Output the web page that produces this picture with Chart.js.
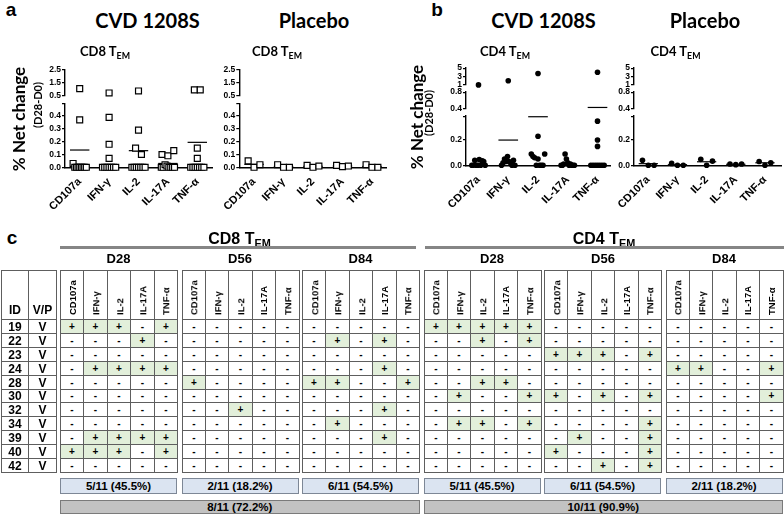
<!DOCTYPE html>
<html>
<head>
<meta charset="utf-8">
<script src="https://cdn.jsdelivr.net/npm/chart.js@4.4.1/dist/chart.umd.min.js"></script>
<style>
  html, body { margin: 0; padding: 0; background: #fff; }
  #fig { position: relative; width: 784px; height: 515px; overflow: hidden; font-family: "Liberation Sans", Arial, sans-serif; color: #000; }
  #fig canvas { position: absolute; }
  .txt { position: absolute; white-space: nowrap; line-height: 1; font-weight: bold; transform: translate(-50%, -50%); }
  .ttl { font-family: Lato, "Liberation Sans", sans-serif; }
  .rot { transform: translate(-50%, -50%) rotate(-90deg); }
  .sub { font-size: 0.68em; position: relative; top: 0.3em; }
  .cell { position: absolute; box-sizing: border-box; border: 1px solid #5e5e5e; display: flex; align-items: center; justify-content: center; font-weight: bold; font-size: 10px; line-height: 1; }
  .vlab { position: absolute; white-space: nowrap; line-height: 1; font-weight: bold; font-size: 9.5px; transform-origin: 0 0; transform: rotate(-90deg) translateY(-50%); }
  .bar { position: absolute; box-sizing: border-box; display: flex; align-items: center; justify-content: center; font-weight: bold; font-size: 11.5px; }
  .rule { position: absolute; background: #858585; }
</style>
</head>
<body>
<div id="fig"></div>
<script>
const markers = ["CD107a", "IFN-γ", "IL-2", "IL-17A", "TNF-α"];

// a: % net change (D28-D0), CD8 TEM, one row per marker
const cd8Vaccine = [
  [1.05, 0.37, 0.03, 0, 0, 0, 0, 0, 0, 0, 0],
  [0.72, 0.39, 0.18, 0.07, 0, 0, 0, 0, 0, 0, 0],
  [0.87, 0.29, 0.15, 0.1, 0, 0, 0, 0, 0, 0, 0],
  [0.1, 0.09, 0.13, 0, 0, 0.02, 0.01, 0, 0, 0, 0],
  [0.95, 0.95, 0.15, 0.07, 0, 0, 0, 0, 0, 0, 0],
];
const cd8VaccineMean = [0.135, null, 0.13, 0.03, 0.195];
const cd8Placebo = [
  [0.05, 0, 0.02],
  [0.02, 0, 0],
  [0.015, 0, 0.01],
  [0.015, 0.005, 0.01],
  [0.02, 0, 0],
];
const cd8PlaceboMean = [0.023, 0.007, 0.008, 0.01, 0.007];

// b: % net change (D28-D0), CD4 TEM
const cd4Vaccine = [
  [1.0, 0, 0, 0.04, 0, 0, 0.045, 0, 0.035, 0.03, 0],
  [2.0, 0, 0.02, 0.05, 0.03, 0.07, 0.03, 0.02, 0, 0.04, 0],
  [3.7, 0.23, 0.09, 0.07, 0.06, 0, 0.05, 0, 0, 0, 0.09],
  [0, 0, 0.01, 0.09, 0.05, 0.02, 0, 0.01, 0, 0, 0],
  [4.0, 0.35, 0.2, 0.15, 0, 0, 0, 0, 0, 0, 0],
];
const cd4VaccineMean = [null, 0.2, 0.385, null, 0.43];
const cd4Placebo = [
  [0.04, 0, 0],
  [0.015, 0, 0],
  [0.047, 0, 0.033],
  [0.01, 0.005, 0.01],
  [0.03, 0, 0.02],
];
const cd4PlaceboMean = [0.013, 0.005, 0.028, 0.008, 0.02];

// c: responders per subject, one string per row in marker order
const subjectIds = ["19", "22", "23", "24", "28", "30", "32", "34", "39", "40", "42"];
const subjectGroup = ["V", "V", "V", "V", "V", "V", "V", "V", "V", "V", "V"];
const timepoints = ["D28", "D56", "D84"];
const cd8D28 = ["+++-+", "---+-", "-----", "-++++", "-----", "-----", "-----", "-----", "-++++", "+++-+", "-----"];
const cd8D56 = ["-----", "-----", "-----", "-----", "+----", "-----", "--+--", "-----", "-----", "-----", "-----"];
const cd8D84 = ["-----", "-+-+-", "-----", "---+-", "++--+", "-----", "---+-", "-+---", "---+-", "-----", "-----"];
const cd4D28 = ["+++++", "--+-+", "-----", "-----", "--++-", "-+--+", "-----", "-++-+", "-----", "-----", "-----"];
const cd4D56 = ["-----", "-----", "+++-+", "-----", "-----", "+-+-+", "-----", "----+", "-+--+", "+---+", "--+-+"];
const cd4D84 = ["-----", "-----", "-----", "++--+", "-----", "----+", "-----", "-----", "-----", "-----", "-----"];
const cd8Summary = ["5/11 (45.5%)", "2/11 (18.2%)", "6/11 (54.5%)"];
const cd4Summary = ["5/11 (45.5%)", "6/11 (54.5%)", "2/11 (18.2%)"];
const cd8Total = "8/11 (72.2%)";
const cd4Total = "10/11 (90.9%)";

const fig = document.getElementById("fig");
Chart.defaults.font.family = '"Liberation Sans", Arial, sans-serif';
Chart.defaults.color = "#000";

const Y_AXIS_W = 27;
const X_AXIS_H = 48;

// broken y axes: each piece is its own chart
const segmentsA = [
  { min: 0.5, max: 2.5, top: 69.3, bottom: 96, ticks: [0.5, 1.5, 2.5], dec: 1, tol: 0.45 },
  { min: 0, max: 0.5, top: 103.3, bottom: 167.3, ticks: [0, 0.1, 0.2, 0.3, 0.4, 0.5], blank: [0.5], dec: 1, tol: 0.055 },
];
const segmentsB = [
  { min: 1, max: 5, top: 68, bottom: 85, ticks: [1, 3, 5], dec: 0, tol: 1.3 },
  { min: 0.4, max: 0.8, top: 92, bottom: 108.7, ticks: [0.4, 0.8], dec: 1, tol: 0.13 },
  { min: 0, max: 0.39, top: 116, bottom: 165.3, ticks: [0, 0.2, 0.39], blank: [0.39], dec: 1, tol: 0.05 },
];

const panels = [
  { values: cd8Vaccine, means: cd8VaccineMean, shape: "rect", spine: 65, right: 212, xMin: -0.5, xMax: 4.5, segments: segmentsA },
  { values: cd8Placebo, means: cd8PlaceboMean, shape: "rect", spine: 239.3, right: 386.7, xMin: -0.5, xMax: 4.5, segments: segmentsA },
  { values: cd4Vaccine, means: cd4VaccineMean, shape: "circle", spine: 466, right: 610, xMin: -0.42, xMax: 4.42, segments: segmentsB },
  { values: cd4Placebo, means: cd4PlaceboMean, shape: "circle", spine: 634, right: 781, xMin: -0.49, xMax: 4.55, segments: segmentsB },
];

// spread tied / near values sideways like a column scatter
function swarm(vals, tol) {
  const order = vals.map((v, i) => i).sort((a, b) => vals[a] - vals[b]);
  const offsets = new Array(vals.length).fill(0);
  let group = [];

  const flush = () => {
    group.sort((a, b) => a - b);
    const n = group.length;
    const w = Math.min((n - 1) * 0.2, 0.45);
    group.forEach((g, k) => {
      offsets[g] = n > 1 ? -w / 2 + (k * w) / (n - 1) : 0;
    });
    group = [];
  };

  order.forEach((i) => {
    if (group.length && vals[i] - vals[group[group.length - 1]] > tol) {
      flush();
    }
    group.push(i);
  });
  if (group.length) flush();

  return offsets;
}

function makeCanvas(left, top, width, height) {
  const canvas = document.createElement("canvas");
  canvas.width = width;
  canvas.height = height;
  canvas.style.left = left + "px";
  canvas.style.top = top + "px";
  canvas.style.width = width + "px";
  canvas.style.height = height + "px";
  fig.appendChild(canvas);
  return canvas;
}

function segmentChart(panel, seg, isBottom) {
  const left = Math.floor(panel.spine - Y_AXIS_W);
  const top = Math.floor(seg.top - 6);
  const width = Math.ceil(panel.right + 6) - left;
  const height = Math.ceil(seg.bottom + (isBottom ? X_AXIS_H : 6)) - top;
  const padding = {
    left: panel.spine - Y_AXIS_W - left,
    right: width - (panel.right - left),
    top: seg.top - top,
    bottom: height - (seg.bottom - top) - (isBottom ? X_AXIS_H : 0),
  };
  const inSeg = (v) => v >= seg.min && v <= seg.max;

  const points = [];
  panel.values.forEach((vals, c) => {
    const own = vals.filter(inSeg);
    const offsets = swarm(own, seg.tol);
    own.forEach((v, k) => points.push({ x: c + offsets[k], y: v }));
  });

  const isRect = panel.shape === "rect";
  const datasets = [
    {
      data: points,
      pointStyle: panel.shape,
      pointRadius: isRect ? 4.2 : 2.8,
      pointBackgroundColor: isRect ? "#fff" : "#000",
      pointBorderColor: "#000",
      pointBorderWidth: isRect ? 1.2 : 0,
      showLine: false,
      clip: false,
    },
  ];
  panel.means.forEach((m, c) => {
    if (m !== null && inSeg(m)) {
      datasets.push({
        data: [{ x: c - 0.33, y: m }, { x: c + 0.33, y: m }],
        showLine: true,
        pointRadius: 0,
        borderColor: "#000",
        borderWidth: 1.2,
        clip: false,
      });
    }
  });

  const xScale = {
    type: "linear",
    min: panel.xMin,
    max: panel.xMax,
    display: isBottom,
    z: 1,
    grid: { display: false, drawTicks: false },
    border: { display: true, color: "#000", width: 1.6 },
    ticks: {
      autoSkip: false,
      minRotation: 45,
      maxRotation: 45,
      padding: 8,
      font: { size: 11, weight: "bold" },
      callback: (v) => markers[Math.round(v)],
    },
    afterBuildTicks: (scale) => {
      scale.ticks = markers.map((m, i) => ({ value: i }));
    },
  };
  if (isBottom) {
    xScale.afterFit = (scale) => {
      scale.height = X_AXIS_H;
    };
  }

  new Chart(makeCanvas(left, top, width, height), {
    type: "scatter",
    data: { datasets },
    options: {
      responsive: false,
      animation: false,
      devicePixelRatio: 1,
      layout: { padding },
      events: [],
      plugins: { legend: { display: false }, tooltip: { enabled: false } },
      scales: {
        x: xScale,
        y: {
          type: "linear",
          min: seg.min,
          max: seg.max,
          grid: { drawOnChartArea: false, drawTicks: true, tickLength: 3, color: "#000", lineWidth: 1.2 },
          border: { display: true, color: "#000", width: 1.4 },
          ticks: {
            autoSkip: false,
            padding: 1,
            font: { size: 8.5, weight: "bold" },
            callback: (v) => (seg.blank && seg.blank.includes(v) ? "" : v.toFixed(seg.dec)),
          },
          afterBuildTicks: (scale) => {
            scale.ticks = seg.ticks.map((v) => ({ value: v }));
          },
          afterFit: (scale) => {
            scale.width = Y_AXIS_W;
          },
        },
      },
    },
  });
}

panels.forEach((panel) => {
  panel.segments.forEach((seg, i) => segmentChart(panel, seg, i === panel.segments.length - 1));
});

function addText(html, x, y, cls, style) {
  const el = document.createElement("div");
  el.className = "txt " + (cls || "");
  el.innerHTML = html;
  el.style.left = x + "px";
  el.style.top = y + "px";
  Object.assign(el.style, style || {});
  fig.appendChild(el);
  return el;
}

// panel a / b labels
addText("a", 11, 9, "", { fontSize: "19px" });
addText("b", 437, 9, "", { fontSize: "19px" });
addText("c", 12, 237, "", { fontSize: "19px" });
addText("CVD 1208S", 147.5, 20, "ttl", { fontSize: "20px" });
addText("Placebo", 314, 20, "ttl", { fontSize: "20px" });
addText("CVD 1208S", 543.5, 20, "ttl", { fontSize: "20px" });
addText("Placebo", 705, 20, "ttl", { fontSize: "20px" });
addText('CD8 T<span class="sub">EM</span>', 105, 51, "ttl", { fontSize: "13px" });
addText('CD8 T<span class="sub">EM</span>', 277, 51, "ttl", { fontSize: "13px" });
addText('CD4 T<span class="sub">EM</span>', 505, 51, "ttl", { fontSize: "13px" });
addText('CD4 T<span class="sub">EM</span>', 675.5, 51, "ttl", { fontSize: "13px" });
addText("% Net change", 18, 118.5, "ttl rot", { fontSize: "17px" });
addText("(D28-D0)", 37, 104.5, "ttl rot", { fontSize: "11px" });
addText("% Net change", 415.5, 116.5, "ttl rot", { fontSize: "17px" });
addText("(D28-D0)", 428, 113, "ttl rot", { fontSize: "11px" });

// panel c table
const HEAD_TOP = 270;
const HEAD_H = 49.3;
const ROW_H = 13.85;
const BLOCK_W = 117;
const COL_W = BLOCK_W / 5;
const cd8Blocks = [cd8D28, cd8D56, cd8D84];
const cd4Blocks = [cd4D28, cd4D56, cd4D84];
const blockLefts = [60, 181.5, 302, 423.5, 544, 665.5];

function addCell(x0, x1, y0, y1, text, bg) {
  const el = document.createElement("div");
  el.className = "cell";
  const l = Math.round(x0);
  const t = Math.round(y0);
  el.style.left = l + "px";
  el.style.top = t + "px";
  el.style.width = Math.round(x1) - l + 1 + "px";
  el.style.height = Math.round(y1) - t + 1 + "px";
  if (bg) el.style.background = bg;
  if (text) el.textContent = text;
  fig.appendChild(el);
  return el;
}

function rowTop(r) {
  return HEAD_TOP + HEAD_H + r * ROW_H;
}

// ID / V/P block
[["ID", 0.5, 28.3], ["V/P", 28.3, 56]].forEach(([label, x0, x1], c) => {
  const head = addCell(x0, x1, HEAD_TOP, HEAD_TOP + HEAD_H, label);
  head.style.alignItems = "flex-end";
  head.style.paddingBottom = "3px";
  head.style.fontSize = "12px";
  subjectIds.forEach((id, r) => {
    const cell = addCell(x0, x1, rowTop(r), rowTop(r + 1), c === 0 ? id : subjectGroup[r]);
    cell.style.fontSize = "12px";
  });
});

[...cd8Blocks, ...cd4Blocks].forEach((rows, b) => {
  const x0 = blockLefts[b];
  markers.forEach((m, c) => {
    const cx0 = x0 + c * COL_W;
    addCell(cx0, cx0 + COL_W, HEAD_TOP, HEAD_TOP + HEAD_H, "");
    const lab = document.createElement("div");
    lab.className = "vlab";
    lab.textContent = m;
    lab.style.left = cx0 + COL_W / 2 + 1 + "px";
    lab.style.top = HEAD_TOP + HEAD_H - 4 + "px";
    fig.appendChild(lab);
    rows.forEach((resp, r) => {
      const sign = resp[c];
      addCell(cx0, cx0 + COL_W, rowTop(r), rowTop(r + 1), sign, sign === "+" ? "#e2efda" : "#fff");
    });
  });
});

// group headers
const tpCenters = [118.5, 240, 360.5, 492, 603, 724];
[...timepoints, ...timepoints].forEach((tp, i) => addText(tp, tpCenters[i], 257.5, "", { fontSize: "13px" }));
addText('CD8 T<span class="sub">EM</span>', 239.5, 239, "", { fontSize: "16px" });
addText('CD4 T<span class="sub">EM</span>', 604, 239, "", { fontSize: "16px" });
[[60, 416], [425, 784]].forEach(([x0, x1]) => {
  const rule = document.createElement("div");
  rule.className = "rule";
  Object.assign(rule.style, { left: x0 + "px", top: "246px", width: x1 - x0 + "px", height: "2.5px" });
  fig.appendChild(rule);
});

function addBar(x0, x1, y0, y1, text, bg, border) {
  const el = document.createElement("div");
  el.className = "bar";
  Object.assign(el.style, {
    left: x0 + "px", top: y0 + "px", width: x1 - x0 + "px", height: y1 - y0 + "px",
    background: bg, border: "1px solid " + border,
  });
  el.textContent = text;
  fig.appendChild(el);
}

[...cd8Summary, ...cd4Summary].forEach((s, i) => {
  addBar(blockLefts[i], blockLefts[i] + BLOCK_W, 477.5, 494, s, "#dbe4f1", "#7d8796");
});
addBar(60, 419.5, 500, 514, cd8Total, "#c2c2c2", "#7a7a7a");
addBar(423.5, 783, 500, 514, cd4Total, "#c2c2c2", "#7a7a7a");
</script>
</body>
</html>
